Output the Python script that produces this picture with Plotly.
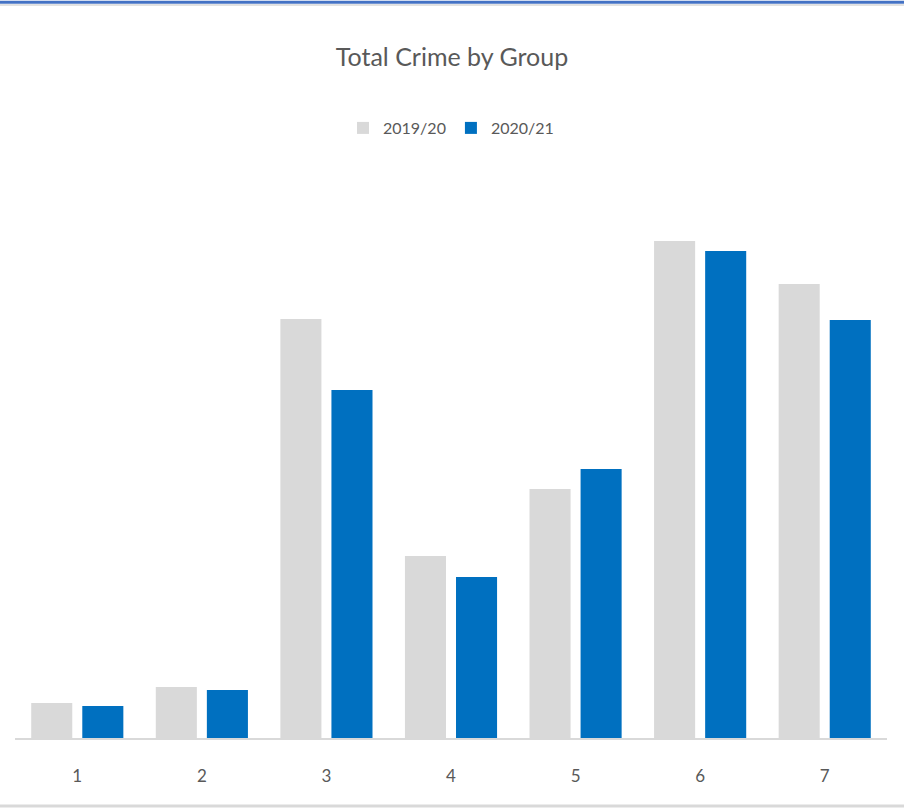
import plotly.graph_objects as go

groups = ["1", "2", "3", "4", "5", "6", "7"]
y2019 = [35, 51, 419, 182, 249, 497, 454]
y2020 = [32, 48, 348, 161, 269, 487, 418]

W, H = 904, 810
L, R, T, B = 15, 17, 238, 72
ph = H - T - B
pw = W - L - R

fig = go.Figure()
fig.add_trace(go.Bar(x=groups, y=y2019, name="2019/20", marker=dict(color="#D9D9D9", line=dict(width=0))))
fig.add_trace(go.Bar(x=groups, y=y2020, name="2020/21", marker=dict(color="#0070C0", line=dict(width=0))))

font = "Lato, sans-serif"

def py(pix):
    return (H - B - pix) / ph

fig.update_layout(
    width=W, height=H,
    margin=dict(l=L, r=R, t=T, b=B),
    paper_bgcolor="white", plot_bgcolor="white",
    barmode="group", bargap=0.18, bargroupgap=0.196,
    title=dict(text="Total Crime by Group", x=0.5, xanchor="center", y=1 - 57 / H, yanchor="middle",
               font=dict(family=font, size=25, color="#595959")),
    legend=dict(orientation="h", x=0.5, xanchor="center", y=py(128), yanchor="middle",
                font=dict(family=font, size=16, color="#595959"), itemwidth=30,
                traceorder="normal"),
    xaxis=dict(showline=True, linecolor="#D9D9D9", linewidth=1.5, ticks="", showgrid=False,
               tickfont=dict(family=font, size=17, color="#595959"), ticklabelstandoff=22),
    yaxis=dict(range=[0, ph], visible=False, showgrid=False, zeroline=False),
    showlegend=True,
    shapes=[
        dict(type="line", xref="paper", yref="paper", x0=-L / pw, x1=(W - L) / pw, y0=py(2.2), y1=py(2.2),
             line=dict(color="#4472C4", width=3)),
        dict(type="line", xref="paper", yref="paper", x0=-L / pw, x1=(W - L) / pw, y0=py(5), y1=py(5),
             line=dict(color="#D9D9D9", width=1.5)),
        dict(type="line", xref="paper", yref="paper", x0=-L / pw, x1=(W - L) / pw, y0=py(806), y1=py(806),
             line=dict(color="#D9D9D9", width=3)),
    ],
)

fig.write_html("out.html", post_script="document.body.style.margin='0';",
               config={"displayModeBar": False})
